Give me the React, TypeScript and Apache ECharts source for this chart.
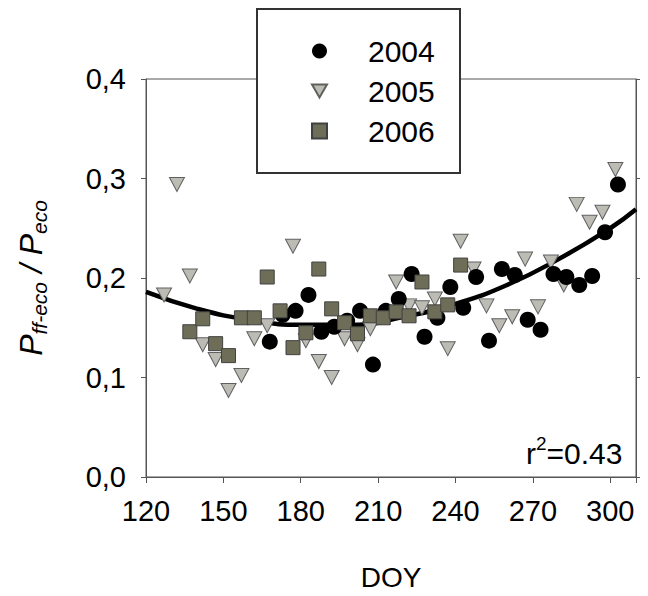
import React, { useEffect, useRef } from "react";
import * as echarts from "echarts";

const years = ["2004", "2005", "2006"];

const doy2004 = [168, 173, 178, 183, 188, 193, 198, 203, 208, 213, 218, 223, 228, 233, 238, 243, 248, 253, 258, 263, 268, 273, 278, 283, 288, 293, 298, 303];
const val2004 = [0.136, 0.163, 0.167, 0.183, 0.146, 0.151, 0.157, 0.167, 0.113, 0.167, 0.179, 0.204, 0.141, 0.16, 0.191, 0.17, 0.201, 0.137, 0.209, 0.203, 0.158, 0.148, 0.204, 0.201, 0.193, 0.202, 0.246, 0.294];

const doy2005 = [127, 132, 137, 142, 147, 152, 157, 162, 167, 177, 182, 187, 192, 197, 202, 207, 217, 222, 227, 232, 237, 242, 247, 252, 257, 262, 267, 272, 277, 282, 287, 292, 297, 302];
const val2005 = [0.183, 0.294, 0.202, 0.133, 0.118, 0.087, 0.102, 0.139, 0.152, 0.232, 0.137, 0.116, 0.1, 0.139, 0.133, 0.149, 0.196, 0.172, 0.17, 0.179, 0.129, 0.237, 0.209, 0.172, 0.152, 0.161, 0.219, 0.171, 0.216, 0.193, 0.274, 0.256, 0.266, 0.309];

const doy2006 = [137, 142, 147, 152, 157, 162, 167, 172, 177, 182, 187, 192, 197, 202, 207, 212, 217, 222, 227, 232, 237, 242];
const val2006 = [0.146, 0.159, 0.134, 0.122, 0.16, 0.16, 0.201, 0.167, 0.13, 0.145, 0.209, 0.169, 0.155, 0.144, 0.162, 0.16, 0.166, 0.162, 0.196, 0.166, 0.173, 0.213];

const fitDoy = [120, 140, 160, 180, 200, 220, 240, 260, 280, 300, 310];
const fitVal = [0.186, 0.169, 0.158, 0.153, 0.153, 0.161, 0.174, 0.193, 0.219, 0.25, 0.269];

const xTicks = [120, 150, 180, 210, 240, 270, 300];
const yTickLabels = ["0,0", "0,1", "0,2", "0,3", "0,4"];

const FONT = "'Liberation Sans', Arial, sans-serif";

const pairs = (xs: number[], ys: number[]) => xs.map((x, i) => [x, ys[i]]);

export default function App() {
  const ref = useRef<HTMLDivElement>(null);
  useEffect(() => {
    if (!ref.current) return;
    const chart = echarts.init(ref.current, undefined, { renderer: "svg" });
    const axisColor = "#555";
    chart.setOption({
      animation: false,
      backgroundColor: "#fff",
      textStyle: { fontFamily: FONT },
      grid: {
        left: 146,
        top: 79,
        right: 12,
        bottom: 117,
        show: true,
        borderColor: axisColor,
        borderWidth: 1,
      },
      xAxis: {
        type: "value",
        min: 120,
        max: 310,
        interval: 30,
        name: "DOY",
        nameLocation: "middle",
        nameGap: 86,
        nameTextStyle: { fontSize: 28, color: "#000", fontFamily: FONT },
        axisLine: { lineStyle: { color: axisColor } },
        axisTick: { length: 6, lineStyle: { color: axisColor } },
        splitLine: { show: false },
        axisLabel: {
          fontSize: 29,
          color: "#000",
          margin: 19,
          fontFamily: FONT,
          formatter: (v: number) => (xTicks.includes(v) ? String(v) : ""),
        },
      },
      yAxis: [
        {
          type: "value",
          min: 0,
          max: 0.4,
          interval: 0.1,
          name: "{p|P}{sub|ff-eco}{p| / P}{sub|eco}",
          nameLocation: "middle",
          nameRotate: 90,
          nameGap: 96,
          nameTextStyle: {
            color: "#000",
            rich: {
              p: { fontSize: 32, fontStyle: "italic", fontFamily: FONT, color: "#000", lineHeight: 38 },
              sub: { fontSize: 21, fontStyle: "italic", fontFamily: FONT, color: "#000", lineHeight: 38, verticalAlign: "bottom", padding: [13, 0, 0, 0] },
            },
          },
          axisLine: { show: true, lineStyle: { color: axisColor } },
          axisTick: { show: true, length: 5, lineStyle: { color: axisColor } },
          splitLine: { show: false },
          axisLabel: {
            fontSize: 29,
            color: "#000",
            margin: 20,
            fontFamily: FONT,
            formatter: (v: number) => yTickLabels[Math.round(v * 10)] ?? "",
          },
        },
        {
          type: "value",
          min: 0,
          max: 0.4,
          interval: 0.1,
          position: "right",
          axisLine: { show: true, lineStyle: { color: axisColor } },
          axisTick: { show: true, length: 4, lineStyle: { color: axisColor } },
          axisLabel: { show: false },
          splitLine: { show: false },
        },
      ],
      legend: {
        data: [
          { name: "2004", icon: "circle" },
          { name: "2005", icon: "path://M0,0 L16,0 L8,14 Z" },
          { name: "2006", icon: "rect" },
        ],
        orient: "vertical",
        left: 306,
        top: 31,
        itemWidth: 15,
        itemHeight: 15,
        itemGap: 10,
        z: 10,
        textStyle: { fontSize: 30, color: "#000", fontFamily: FONT, lineHeight: 30, padding: [0, 0, 0, 36] },
      },
      graphic: [
        {
          type: "rect",
          z: 5,
          shape: { x: 257, y: 9, width: 203, height: 164 },
          style: { fill: "#fff", stroke: "#333", lineWidth: 2 },
        },
        {
          type: "text",
          z: 5,
          left: 526,
          top: 434,
          style: {
            text: "{r|r}{sup|2}{r|=0.43}",
            rich: {
              r: { fontSize: 30, fontFamily: FONT, fill: "#000", lineHeight: 34, verticalAlign: "bottom" },
              sup: { fontSize: 19, fontFamily: FONT, fill: "#000", lineHeight: 34, verticalAlign: "top", padding: [0, 0, 11, 0] },
            },
          },
        },
      ],
      series: [
        {
          type: "line",
          name: "fit",
          data: pairs(fitDoy, fitVal),
          smooth: true,
          showSymbol: false,
          lineStyle: { color: "#000", width: 4.5 },
          z: 1,
          silent: true,
        },
        {
          type: "scatter",
          name: "2004",
          data: pairs(doy2004, val2004),
          symbol: "circle",
          symbolSize: 16,
          itemStyle: { color: "#000", borderColor: "#000", borderWidth: 0, opacity: 1 },
          z: 3,
        },
        {
          type: "scatter",
          name: "2005",
          data: pairs(doy2005, val2005),
          symbol: "triangle",
          symbolRotate: 180,
          symbolSize: [15, 14],
          itemStyle: { color: "#bcbcb4", borderColor: "#606060", borderWidth: 1, opacity: 1 },
          z: 2,
        },
        {
          type: "scatter",
          name: "2006",
          data: pairs(doy2006, val2006),
          symbol: "rect",
          symbolSize: 14,
          itemStyle: { color: "#6e6e58", borderColor: "#404040", borderWidth: 1, opacity: 1 },
          z: 3,
        },
      ],
    });
    return () => chart.dispose();
  }, []);
  return <div ref={ref} style={{ width: 648, height: 596, position: "absolute", left: 0, top: 0 }} />;
}
